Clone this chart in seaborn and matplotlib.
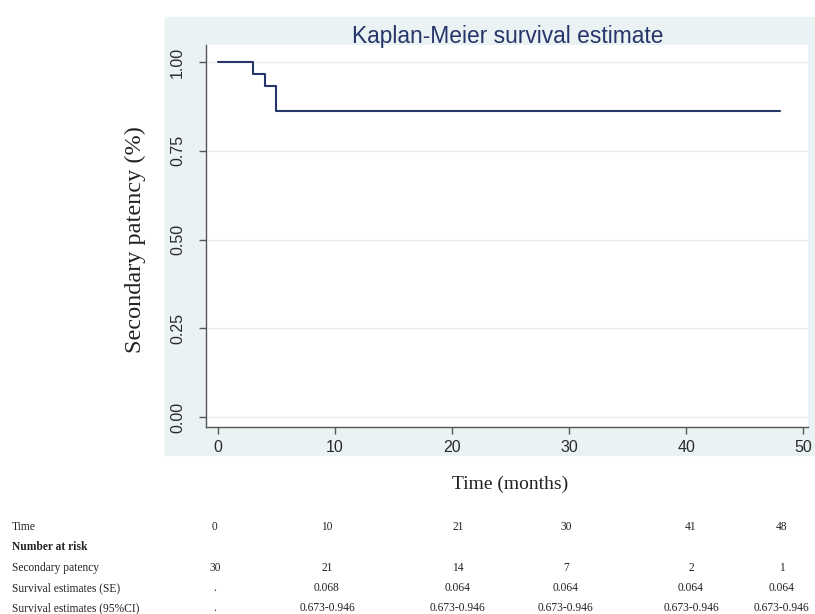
import matplotlib
matplotlib.use("Agg")
import matplotlib.pyplot as plt
import numpy as np
import pandas as pd
import seaborn as sns
from matplotlib.patches import Rectangle

# Kaplan-Meier step values
time = [0, 3, 4, 5, 48]
survival = [1.0, 0.967, 0.933, 0.862, 0.862]

# number-at-risk table
table_times = ["0", "10", "21", "30", "41", "48"]
at_risk = ["30", "21", "14", "7", "2", "1"]
surv_se = [".", "0.068", "0.064", "0.064", "0.064", "0.064"]
surv_ci = [".", "0.673-0.946", "0.673-0.946", "0.673-0.946", "0.673-0.946", "0.673-0.946"]

sns.set_style("white")
plt.rcParams["font.family"] = ["Liberation Sans", "DejaVu Sans"]

navy = "#26366a"
panel = "#eaf2f3"

fig = plt.figure(figsize=(8.15, 6.14), dpi=100)
# light blue Stata-like panel behind the plot
fig.patches.append(Rectangle((165 / 815, 1 - 455 / 614), 650 / 815, 438 / 614,
                             transform=fig.transFigure, color=panel, zorder=-5))

ax = fig.add_axes([206 / 815, 1 - 427 / 614, 602 / 815, 382 / 614])
ax.set_zorder(2)
ax.set_facecolor("white")

df = pd.DataFrame({"time": time, "survival": survival})
sns.lineplot(data=df, x="time", y="survival", drawstyle="steps-post",
             color=navy, linewidth=1.5, ax=ax)

ax.set_xlim(-1.0, 50.4)
ax.set_ylim(-0.028, 1.048)
ax.set_xticks([0, 10, 20, 30, 40, 50])
ax.set_yticks([0, 0.25, 0.5, 0.75, 1.0])
ax.set_yticklabels(["0.00", "0.25", "0.50", "0.75", "1.00"], rotation=90, va="center")
ax.tick_params(axis="both", bottom=True, left=True, labelsize=11.5, colors="#555555",
               labelcolor="#2a2a2a", length=5, width=1, direction="out")
ax.tick_params(axis="x", pad=4)
ax.tick_params(axis="y", pad=10)
for y in [0, 0.25, 0.5, 0.75, 1.0]:
    ax.axhline(y, color="#e8eeee", linewidth=1, zorder=0)
for s in ["top", "right"]:
    ax.spines[s].set_visible(False)
for s in ["left", "bottom"]:
    ax.spines[s].set_color("#555555")
    ax.spines[s].set_linewidth(1)

ax.set_xlabel("")
ax.set_ylabel("")
serif = ["Liberation Serif", "DejaVu Serif"]
fig.text(135 / 815, 1 - 240 / 614, "Secondary patency (%)", rotation=90,
         ha="center", va="center", fontsize=17.5, family=serif, color="#222222")
fig.text(510 / 815, 1 - 484 / 614, "Time (months)", ha="center", va="center",
         fontsize=14, family=serif, color="#222222")
fig.text(508 / 815, 1 - 37 / 614, "Kaplan-Meier survival estimate", ha="center",
         va="center", fontsize=16.4, color=navy)

# table under the chart
col_x = [215, 327, 458, 566, 691, 782]
row_y = [527, 547, 568, 588, 608]
labels = ["Time", "Number at risk", "Secondary patency",
          "Survival estimates (SE)", "Survival estimates (95%CI)"]
for i, lab in enumerate(labels):
    fig.text(12 / 815, 1 - row_y[i] / 614, lab, ha="left", va="center",
             fontsize=8.3, family=serif, color="#222222",
             weight="bold" if i == 1 else "normal")
rows = {0: table_times, 2: at_risk, 3: surv_se, 4: surv_ci}
for r, vals in rows.items():
    for x, v in zip(col_x, vals):
        fig.text(x / 815, 1 - row_y[r] / 614, v, ha="center", va="center",
                 fontsize=8.3, family=serif, color="#222222")

fig.savefig("out.png", dpi=100)
